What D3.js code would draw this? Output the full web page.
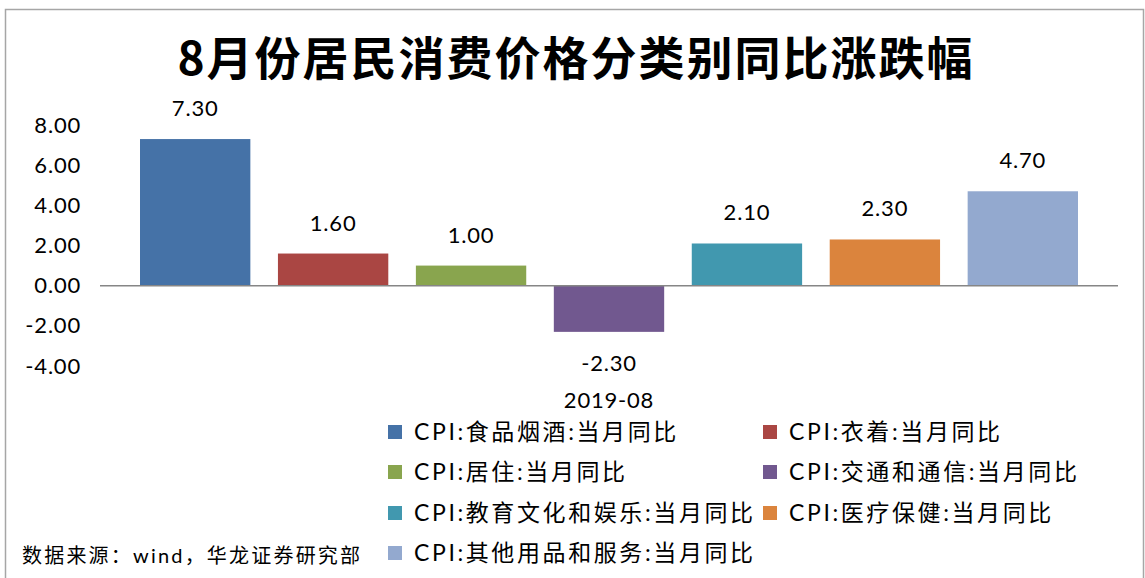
<!DOCTYPE html>
<html>
<head>
<meta charset="utf-8">
<script src="https://cdn.jsdelivr.net/npm/d3@7"></script>
<style>
    body { margin: 0; background: #fff; }
    svg { display: block; font-family: "Lato", "Noto Sans CJK SC", sans-serif; }
</style>
</head>
<body>
<svg id="chart" width="1145" height="578"></svg>
<script>
// ---------------------------------- Data ----------------------------------
var categories = ["2019-08"];
var seriesNames = [
    "CPI:食品烟酒:当月同比", "CPI:衣着:当月同比", "CPI:居住:当月同比",
    "CPI:交通和通信:当月同比", "CPI:教育文化和娱乐:当月同比",
    "CPI:医疗保健:当月同比", "CPI:其他用品和服务:当月同比"
];
var seriesValues = [7.30, 1.60, 1.00, -2.30, 2.10, 2.30, 4.70];
var seriesColors = ["#4572A7", "#AA4643", "#89A54E", "#71588F", "#4198AF", "#DB843D", "#93A9CF"];
var yTicks = [-4, -2, 0, 2, 4, 6, 8];

// plain hyphen for negatives, like the source
var fmt = d3.formatLocale({ decimal: ".", thousands: ",", grouping: [3], currency: ["", ""], minus: "-" }).format(".2f");

// ---------------------------------- Chart ----------------------------------
var svg = d3.select("#chart");

// outer frame
svg.append("rect")
    .attr("x", 5.5).attr("y", 9.5)
    .attr("width", 1138).attr("height", 580)
    .attr("fill", "none")
    .attr("stroke", "#a6a6a6")
    .attr("stroke-width", 1.5);

svg.append("text")
    .attr("x", 576).attr("y", 75)
    .attr("text-anchor", "middle")
    .style("font-family", "'Noto Sans CJK SC', sans-serif")
    .style("font-weight", "bold")
    .style("font-size", "46px")
    .style("letter-spacing", "2px")
    .text("8月份居民消费价格分类别同比涨跌幅");

var plotLeft = 100, plotRight = 1118;

var x = d3.scaleBand()
    .domain(categories)
    .range([plotLeft, plotRight]);

// series band inside the category
var xs = d3.scaleBand()
    .domain(seriesNames)
    .range([40, x.bandwidth() - 40])
    .paddingInner(0.2)
    .paddingOuter(0);

var y = d3.scaleLinear()
    .domain([-4, 8])
    .range([366, 125]);

// y axis labels
var yAxis = svg.append("g")
    .attr("transform", "translate(81,0)")
    .call(d3.axisLeft(y).tickValues(yTicks).tickFormat(fmt).tickSize(0).tickPadding(0));
yAxis.select(".domain").remove();
yAxis.selectAll("text")
    .style("font-size", "22px")
    .style("letter-spacing", "0.8px")
    .style("font-family", "Lato, sans-serif")
    .attr("fill", "#000");

// bars
var bars = svg.append("g").attr("transform", "translate(" + x(categories[0]) + ",0)");
bars.selectAll("rect")
    .data(seriesValues)
    .enter()
    .append("rect")
    .attr("x", function (d, i) { return xs(seriesNames[i]); })
    .attr("y", function (d) { return y(Math.max(0, d)); })
    .attr("width", xs.bandwidth())
    .attr("height", function (d) { return Math.abs(y(d) - y(0)); })
    .attr("fill", function (d, i) { return seriesColors[i]; });

// value labels
bars.selectAll("text")
    .data(seriesValues)
    .enter()
    .append("text")
    .attr("x", function (d, i) { return xs(seriesNames[i]) + xs.bandwidth() / 2; })
    .attr("y", function (d) { return d >= 0 ? y(d) - 23 : y(d) + 39; })
    .attr("text-anchor", "middle")
    .style("font-size", "22px")
    .style("letter-spacing", "0.8px")
    .style("font-family", "Lato, sans-serif")
    .text(function (d) { return fmt(d); });

// zero line
svg.append("line")
    .attr("x1", plotLeft).attr("x2", plotRight)
    .attr("y1", y(0)).attr("y2", y(0))
    .attr("stroke", "#868686")
    .attr("stroke-width", 1.5);

// category label
svg.append("text")
    .attr("x", x(categories[0]) + x.bandwidth() / 2)
    .attr("y", 408)
    .attr("text-anchor", "middle")
    .style("font-size", "22px")
    .style("letter-spacing", "0.8px")
    .style("font-family", "Lato, sans-serif")
    .text(categories[0]);

// ---------------------------------- Legend ----------------------------------
var legendCols = [388, 763];
var legendRows = [432, 472, 513, 553];
var legend = svg.append("g");
seriesNames.forEach(function (name, i) {
    var cx = legendCols[i % 2], cy = legendRows[Math.floor(i / 2)];
    legend.append("rect")
        .attr("x", cx).attr("y", cy - 7)
        .attr("width", 14).attr("height", 14)
        .attr("fill", seriesColors[i]);
    legend.append("text")
        .attr("x", cx + 26).attr("y", cy + 8)
        .style("font-size", "23px")
        .style("letter-spacing", "2.6px")
        .text(name);
});

// source
svg.append("text")
    .attr("x", 22).attr("y", 563)
    .style("font-size", "20px")
    .style("letter-spacing", "2.2px")
    .text("数据来源：wind，华龙证券研究部");
</script>
</body>
</html>
